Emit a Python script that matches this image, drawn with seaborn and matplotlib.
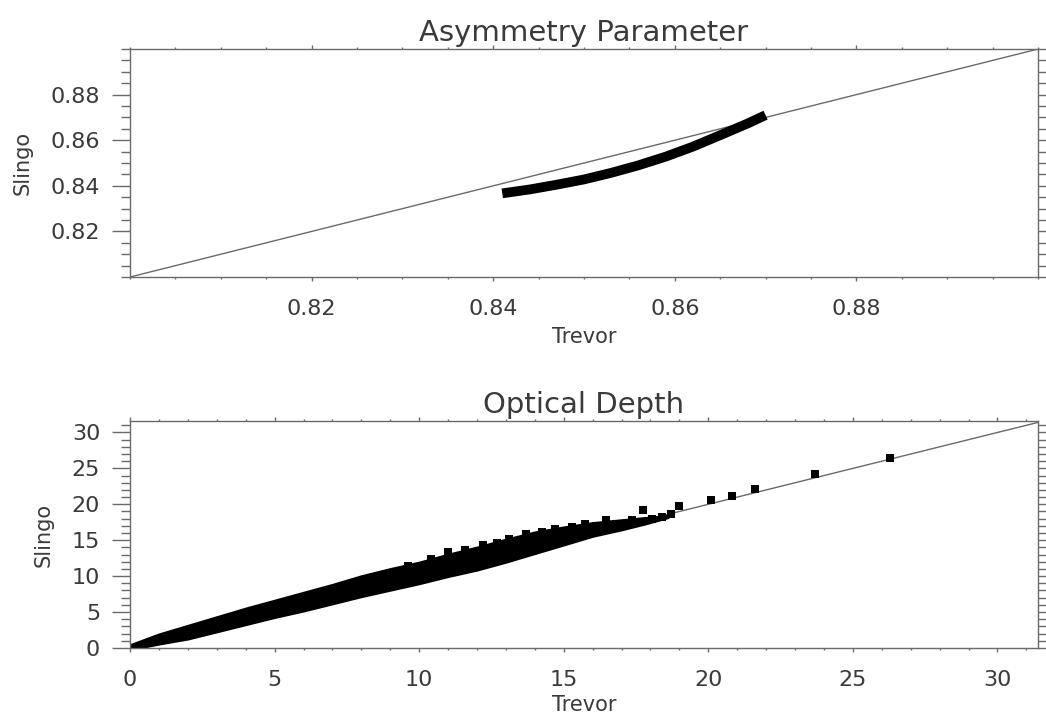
import matplotlib
matplotlib.use("Agg")
import matplotlib.pyplot as plt
from matplotlib.ticker import FixedLocator, MultipleLocator, FormatStrFormatter
import pandas as pd
import seaborn as sns

# ---- Asymmetry parameter (Trevor scheme vs Slingo scheme) ----
asym_trevor = [0.841, 0.844, 0.847, 0.850, 0.853, 0.856, 0.859, 0.862, 0.865, 0.868, 0.870]
asym_slingo = [0.8367, 0.8384, 0.8405, 0.8428, 0.8457, 0.8490, 0.8528, 0.8572, 0.8622, 0.8673, 0.8710]
asym_limits = [0.80, 0.90]
asym_ticks = [0.82, 0.84, 0.86, 0.88]

# ---- Optical depth ----
# envelope of the dense cloud of points
tau_band_trevor = [0, 1, 2, 3, 4, 5, 6, 7, 8, 9, 10, 11, 12, 13, 14, 15, 16, 17, 17.8, 18.6]
tau_band_low = [-0.2, 0.6, 1.3, 2.3, 3.3, 4.3, 5.2, 6.2, 7.2, 8.1, 9.0, 10.0, 10.9, 12.0, 13.2,
                14.4, 15.6, 16.5, 17.3, 18.2]
tau_band_high = [0.4, 1.9, 3.1, 4.3, 5.5, 6.6, 7.7, 8.8, 10.0, 11.0, 11.9, 13.0, 14.0, 15.1, 16.1,
                 16.8, 17.4, 17.8, 18.1, 18.4]
# individual points along the ragged upper edge and the high-depth tail
tau_trevor = [9.6, 10.4, 11.0, 11.6, 12.2, 12.7, 13.1, 13.7, 14.25, 14.7, 15.3, 15.75, 16.1, 16.45,
              16.8, 17.35, 17.75, 18.05, 18.4, 18.7, 18.97, 20.1, 20.83, 21.6, 23.7, 26.3]
tau_slingo = [11.4, 12.4, 13.3, 13.6, 14.3, 14.6, 15.2, 15.8, 16.2, 16.6, 16.9, 17.3, 17.0, 17.8,
              17.2, 17.8, 19.2, 18.0, 18.3, 18.6, 19.8, 20.6, 21.1, 22.1, 24.2, 26.5]
tau_limits_x = [0, 31.4]
tau_limits_y = [0, 31.6]

asym_df = pd.DataFrame({"Trevor": asym_trevor, "Slingo": asym_slingo})
tau_df = pd.DataFrame({"Trevor": tau_trevor, "Slingo": tau_slingo})

sns.set_theme(style="ticks")
plt.rcParams["font.family"] = ["DejaVu Sans"]

FRAME = "#6a6a6a"
TEXT = "#3a3a3a"

fig = plt.figure(figsize=(10.46, 7.19), dpi=100)
fig.patch.set_facecolor("white")
ax1 = fig.add_axes([0.1243, 0.6147, 0.868, 0.3171])
ax2 = fig.add_axes([0.1243, 0.0988, 0.868, 0.3157])


def style_axes(ax, title, xlabelpad):
    ax.set_facecolor("white")
    for sp in ax.spines.values():
        sp.set_color(FRAME)
        sp.set_linewidth(1.0)
        sp.set_visible(True)
        sp.set_zorder(5)
    ax.tick_params(which="both", direction="out", top=True, right=True,
                   color=FRAME, labelcolor=TEXT, labelsize=16, width=1.0)
    ax.tick_params(axis="x", which="major", length=3.2, pad=12.5)
    ax.tick_params(axis="x", which="minor", length=1.7)
    ax.tick_params(axis="y", which="major", length=13, pad=8.5)
    ax.tick_params(axis="y", which="minor", length=6.5)
    ax.set_title(title, fontsize=21, color=TEXT, pad=6)
    ax.set_xlabel("Trevor", fontsize=15, color=TEXT, labelpad=xlabelpad)
    ax.set_ylabel("Slingo", fontsize=15, color=TEXT, labelpad=13)


# Top panel: asymmetry parameter
sns.lineplot(x=asym_limits, y=asym_limits, ax=ax1, color=FRAME, linewidth=1.0)
sns.lineplot(data=asym_df, x="Trevor", y="Slingo", ax=ax1, color="black",
             linewidth=7.0, solid_capstyle="butt", sort=False)
ax1.set_xlim(asym_limits)
ax1.set_ylim(asym_limits)
ax1.xaxis.set_major_locator(FixedLocator(asym_ticks))
ax1.yaxis.set_major_locator(FixedLocator(asym_ticks))
ax1.xaxis.set_minor_locator(MultipleLocator(0.005))
ax1.yaxis.set_minor_locator(MultipleLocator(0.005))
ax1.xaxis.set_major_formatter(FormatStrFormatter("%.2f"))
ax1.yaxis.set_major_formatter(FormatStrFormatter("%.2f"))
style_axes(ax1, "Asymmetry Parameter", 6)

# Bottom panel: optical depth (1:1 line underneath the points)
sns.lineplot(x=[0, 40], y=[0, 40], ax=ax2, color=FRAME, linewidth=1.0, zorder=1)
ax2.fill_between(tau_band_trevor, tau_band_low, tau_band_high, color="black", linewidth=2.0,
                 edgecolor="black", zorder=2)
sns.scatterplot(data=tau_df, x="Trevor", y="Slingo", ax=ax2, color="black", marker="s",
                s=26, linewidth=0, zorder=3)
ax2.set_xlim(tau_limits_x)
ax2.set_ylim(tau_limits_y)
ax2.xaxis.set_major_locator(MultipleLocator(5))
ax2.yaxis.set_major_locator(MultipleLocator(5))
ax2.xaxis.set_minor_locator(MultipleLocator(1))
ax2.yaxis.set_minor_locator(MultipleLocator(1))
ax2.xaxis.set_major_formatter(FormatStrFormatter("%d"))
ax2.yaxis.set_major_formatter(FormatStrFormatter("%d"))
style_axes(ax2, "Optical Depth", 4)

fig.savefig("out.png", dpi=100, facecolor="white")
